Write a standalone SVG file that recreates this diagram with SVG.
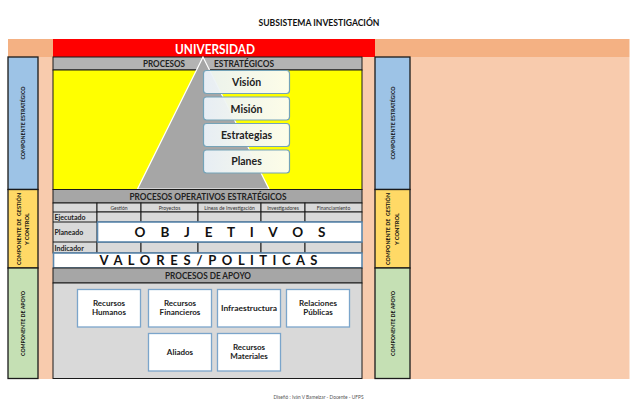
<svg xmlns="http://www.w3.org/2000/svg" width="638" height="418" viewBox="0 0 638 418">
<style>
text{font-family:Lato,"Liberation Sans",sans-serif;fill:#111;text-anchor:middle}
.hdr{font-size:9px;font-weight:700;fill:#222}
.bar{fill:#a6a6a6;stroke:#1a1a1a;stroke-width:1}
.cell{fill:#d9d9d9;stroke:#1a1a1a;stroke-width:1}
.comp{stroke:#1a1a1a;stroke-width:1.3}
.vt{font-size:5.800px;font-weight:700}
.th{font-size:5px;fill:#333}
.rl{font-size:7px;text-anchor:start;font-weight:700;fill:#222}
.wide{fill:#fff;stroke:#5b87ad;stroke-width:1.6}
.sp{fill:#fff;stroke:#7ba5cb;stroke-width:1.3}
.st{font-size:8px;font-weight:700;fill:#222}
.pl{fill:url(#pg);stroke:#74a3b8;stroke-width:1.2}
.pt{font-size:10.500px;font-weight:700;fill:#222}
</style>
<defs>
<linearGradient id="pg" x1="0" y1="0" x2="1" y2="0"><stop offset="0" stop-color="#eaf1f8" stop-opacity=".95"/><stop offset="1" stop-color="#fdfde8"/></linearGradient>
</defs>
<rect width="638" height="418" fill="#fff"/>
<text x="319" y="25.500" font-size="8.500" font-weight="700" textLength="121" lengthAdjust="spacingAndGlyphs">SUBSISTEMA INVESTIGACIÓN</text>
<g id="background">
<rect x="8" y="39" width="45" height="18" fill="#f4b183"/>
<rect x="375" y="39" width="254.500" height="18" fill="#f4b183"/>
<rect x="38" y="57" width="15" height="322" fill="#f8cbad"/>
<rect x="362" y="57" width="13" height="322" fill="#f8cbad"/>
<rect x="410" y="57" width="219.500" height="322" fill="#f8cbad"/>
</g>
<g id="universidad"><rect x="53" y="39" width="322" height="18" fill="#f00"/>
<text x="215" y="53.500" font-size="12.500" font-weight="700" style="fill:#fff" textLength="80" lengthAdjust="spacingAndGlyphs">UNIVERSIDAD</text></g>
<g id="comp-izq">
<rect class="comp" x="8" y="57" width="30" height="132.500" fill="#9dc3e6"/>
<rect class="comp" x="8" y="189.500" width="30" height="78.500" fill="#ffd966"/>
<rect class="comp" x="8" y="268" width="30" height="110.500" fill="#c5e0b4"/>
<text class="vt" transform="translate(25,123) rotate(-90)" textLength="73" lengthAdjust="spacingAndGlyphs">COMPONENTE ESTRATÉGICO</text>
<text class="vt" transform="translate(21,229) rotate(-90)" textLength="72" lengthAdjust="spacingAndGlyphs" xml:space="preserve">COMPONENTE DE  GESTIÓN</text>
<text class="vt" transform="translate(29,229) rotate(-90)" textLength="32" lengthAdjust="spacingAndGlyphs">Y CONTROL</text>
<text class="vt" transform="translate(25,323.500) rotate(-90)" textLength="65" lengthAdjust="spacingAndGlyphs">COMPONENTE DE APOYO</text>
</g>
<g id="comp-der">
<rect class="comp" x="375" y="57" width="35" height="132.500" fill="#9dc3e6"/>
<rect class="comp" x="375" y="189.500" width="35" height="78.500" fill="#ffd966"/>
<rect class="comp" x="375" y="268" width="35" height="110.500" fill="#c5e0b4"/>
<text class="vt" transform="translate(395,123) rotate(-90)" textLength="73" lengthAdjust="spacingAndGlyphs">COMPONENTE ESTRATÉGICO</text>
<text class="vt" transform="translate(390,229) rotate(-90)" textLength="72" lengthAdjust="spacingAndGlyphs" xml:space="preserve">COMPONENTE DE  GESTIÓN</text>
<text class="vt" transform="translate(399,229) rotate(-90)" textLength="32" lengthAdjust="spacingAndGlyphs">Y CONTROL</text>
<text class="vt" transform="translate(395,323.500) rotate(-90)" textLength="65" lengthAdjust="spacingAndGlyphs">COMPONENTE DE APOYO</text>
</g>
<g id="estrategicos">
<rect class="bar" x="53" y="57" width="309" height="13" style="fill:#b3b3b3"/>
<rect x="53" y="70" width="309" height="119.500" fill="#ff0" stroke="#1a1a1a"/>
<text class="hdr" x="164" y="67" textLength="42" lengthAdjust="spacingAndGlyphs">PROCESOS</text>
<text class="hdr" x="244" y="67" textLength="60" lengthAdjust="spacingAndGlyphs">ESTRATÉGICOS</text>
<polygon points="203,57 137.500,189 269,189" fill="#a6a6a6" stroke="#fff" stroke-width="1.200"/>
</g>
<g id="vision"><rect class="pl" x="203.500" y="70.500" width="86" height="23" rx="3"/><text class="pt" x="246.500" y="86">Visión</text></g>
<g id="mision"><rect class="pl" x="203.500" y="97" width="86" height="23" rx="3"/><text class="pt" x="246.500" y="112.500">Misión</text></g>
<g id="estrategias"><rect class="pl" x="203.500" y="123.500" width="86" height="23" rx="3"/><text class="pt" x="246.500" y="138.500">Estrategias</text></g>
<g id="planes"><rect class="pl" x="203.500" y="150" width="86" height="23" rx="3"/><text class="pt" x="246.500" y="165">Planes</text></g>
<g id="operativos">
<rect class="bar" x="53" y="189.500" width="309" height="13.500"/>
<text class="hdr" x="208" y="199.500" textLength="157" lengthAdjust="spacingAndGlyphs">PROCESOS OPERATIVOS ESTRATÉGICOS</text>
<rect class="cell" x="53" y="203" width="44" height="50"/>
<rect class="cell" x="97" y="203" width="44" height="9"/><rect class="cell" x="141" y="203" width="57" height="9"/><rect class="cell" x="198" y="203" width="63" height="9"/><rect class="cell" x="261" y="203" width="44" height="9"/><rect class="cell" x="305" y="203" width="57" height="9"/>
<rect class="cell" x="97" y="212" width="44" height="10"/><rect class="cell" x="141" y="212" width="57" height="10"/><rect class="cell" x="198" y="212" width="63" height="10"/><rect class="cell" x="261" y="212" width="44" height="10"/><rect class="cell" x="305" y="212" width="57" height="10"/>
<rect class="cell" x="97" y="242" width="44" height="11"/><rect class="cell" x="141" y="242" width="57" height="11"/><rect class="cell" x="198" y="242" width="63" height="11"/><rect class="cell" x="261" y="242" width="44" height="11"/><rect class="cell" x="305" y="242" width="57" height="11"/>
<line x1="53" y1="212" x2="97" y2="212" stroke="#1a1a1a"/><line x1="53" y1="222" x2="97" y2="222" stroke="#1a1a1a"/><line x1="53" y1="242" x2="97" y2="242" stroke="#1a1a1a"/>
<text class="th" x="119" y="209.500">Gestión</text><text class="th" x="169.500" y="209.500">Proyectos</text><text class="th" x="229.500" y="209.500">Líneas de Investigación</text><text class="th" x="283" y="209.500">Investigadores</text><text class="th" x="333.500" y="209.500">Financiamiento</text>
<text class="rl" x="54.500" y="220">Ejecutado</text><text class="rl" x="54.500" y="235">Planeado</text><text class="rl" x="54.500" y="250.500">Indicador</text>
</g>
<g id="objetivos"><rect class="wide" x="97.500" y="222" width="264.500" height="20"/>
<text x="230" y="237" font-size="13.500px" font-weight="700" textLength="191" lengthAdjust="spacing">O B J E T I V O S</text></g>
<g id="valores"><rect class="wide" x="53.500" y="253" width="308.500" height="15"/>
<text x="208.500" y="265" font-size="13px" font-weight="700" textLength="218" lengthAdjust="spacing">V A L O R E S / P O L I T I C A S</text></g>
<g id="apoyo">
<rect class="bar" x="53" y="268" width="309" height="15"/>
<text class="hdr" x="208" y="279" textLength="86" lengthAdjust="spacingAndGlyphs">PROCESOS DE APOYO</text>
<rect class="cell" x="53" y="283" width="309" height="95.500"/>
</g>
<g id="recursos-humanos"><rect class="sp" x="77.500" y="289.500" width="63" height="37.500"/><text class="st" x="109" y="306">Recursos</text><text class="st" x="109" y="315">Humanos</text></g>
<g id="recursos-financieros"><rect class="sp" x="148.500" y="289.500" width="63" height="37.500"/><text class="st" x="180" y="306">Recursos</text><text class="st" x="180" y="315">Financieros</text></g>
<g id="infraestructura"><rect class="sp" x="217.500" y="289.500" width="63" height="37.500"/><text class="st" x="249" y="311" textLength="56" lengthAdjust="spacingAndGlyphs">Infraestructura</text></g>
<g id="relaciones-publicas"><rect class="sp" x="286.500" y="289.500" width="63" height="37.500"/><text class="st" x="318" y="306">Relaciones</text><text class="st" x="318" y="315">Públicas</text></g>
<g id="aliados"><rect class="sp" x="148.500" y="333.500" width="63" height="37.500"/><text class="st" x="180" y="355">Aliados</text></g>
<g id="recursos-materiales"><rect class="sp" x="217.500" y="333.500" width="63" height="37.500"/><text class="st" x="249" y="350">Recursos</text><text class="st" x="249" y="359">Materiales</text></g>
<text x="318.500" y="399" font-size="5px" style="fill:#555" textLength="90" lengthAdjust="spacingAndGlyphs">Diseñó : Iván V Bameizar - Docente - UFPS</text>
</svg>
